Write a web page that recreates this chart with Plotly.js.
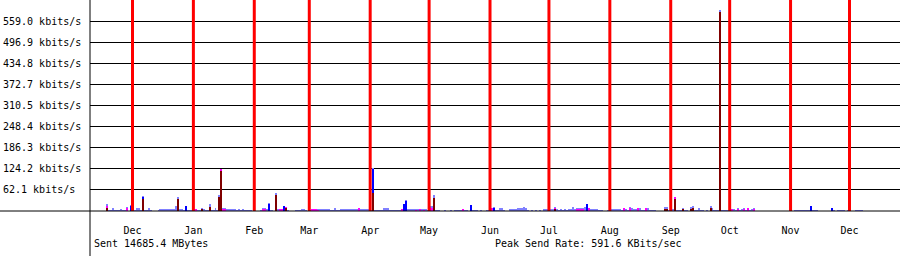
<!DOCTYPE html>
<html>
<head>
<meta charset="utf-8">
<script src="https://cdn.plot.ly/plotly-3.0.1.min.js"></script>
<style>html,body{margin:0;padding:0;background:#fff;}#chart{width:900px;height:256px;}</style>
</head>
<body>
<div id="chart"></div>
<script>
// ---- data (kbits/s), day index 0 = 2010-11-18 ----
const startDate = [2010, 10, 18];

// main (light blue) series, one value per day
const lightVals = [
  20, 3, 3, 9, 3, 3, 3, 6, 3, 3,
  12, 0, 18, 3, 3, 9, 9, 3, 44, 3,
  3, 9, 3, 0, 0, 0, 3, 6, 6, 6,
  6, 6, 6, 6, 6, 15, 41, 5, 5, 3,
  15, 3, 3, 3, 6, 6, 3, 3, 9, 6,
  3, 3, 20, 3, 3, 9, 3, 47, 122, 8,
  8, 5, 5, 5, 5, 5, 3, 5, 3, 5,
  3, 3, 3, 3, 0, 0, 0, 0, 3, 9,
  8, 6, 24, 3, 3, 0, 53, 5, 6, 6,
  15, 12, 3, 0, 0, 0, 3, 3, 3, 6,
  6, 3, 0, 3, 6, 6, 6, 6, 5, 5,
  5, 5, 5, 5, 3, 3, 9, 3, 3, 5,
  5, 5, 5, 5, 5, 5, 5, 5, 9, 5,
  5, 5, 5, 5, 3, 126, 3, 3, 3, 3,
  3, 8, 8, 8, 4, 4, 4, 4, 4, 4,
  6, 22, 31, 5, 5, 5, 5, 5, 5, 5,
  5, 5, 5, 3, 15, 15, 47, 3, 3, 3,
  0, 0, 3, 0, 0, 3, 0, 3, 3, 3,
  3, 6, 3, 3, 0, 18, 3, 3, 3, 0,
  3, 0, 0, 3, 3, 6, 9, 12, 3, 3,
  8, 8, 3, 0, 0, 5, 5, 5, 5, 8,
  8, 8, 12, 8, 3, 0, 3, 0, 3, 0,
  3, 0, 6, 6, 6, 6, 6, 6, 12, 5,
  3, 5, 3, 5, 3, 6, 6, 12, 6, 9,
  9, 9, 9, 12, 21, 9, 6, 6, 6, 6,
  3, 3, 3, 0, 0, 3, 3, 5, 5, 5,
  5, 5, 3, 9, 5, 3, 12, 9, 6, 6,
  9, 9, 3, 3, 9, 9, 3, 3, 3, 3,
  0, 0, 0, 0, 12, 12, 3, 3, 6, 41,
  3, 3, 3, 9, 3, 3, 0, 12, 15, 3,
  3, 8, 3, 3, 0, 3, 0, 15, 8, 3,
  3, 3, 591.6, 3, 3, 3, 3, 3, 6, 6,
  3, 9, 3, 6, 9, 3, 9, 3, 6, 9,
  0, 0, 0, 0, 0, 0, 0, 0, 0, 0,
  0, 0, 0, 0, 0, 0, 0, 0, 0, 0,
  3, 3, 3, 3, 3, 3, 3, 3, 15, 3,
  3, 3, 0, 0, 0, 0, 0, 0, 0, 9,
  3, 0, 3, 3, 3, 3, 0, 3, 0, 0,
  0, 3, 3, 3, 3
];

// sparse series: day index and value
const pinkDays = [0, 10, 45, 58, 59, 60, 79, 80, 88, 89, 91, 104, 105, 106, 107, 128, 150, 151, 157, 159, 161, 164, 165, 181, 196, 228, 239, 240, 241, 242, 245, 263, 266, 270, 274, 289, 318, 321, 324, 326, 329];
const pinkVals = [15, 9, 5, 124, 6, 5, 6, 6, 5, 5, 12, 5, 5, 5, 3, 8, 6, 5, 3, 5, 3, 12, 8, 5, 8, 9, 5, 6, 5, 5, 8, 8, 9, 8, 8, 40, 5, 6, 6, 8, 6];

const blueDays = [12, 18, 40, 82, 90, 135, 151, 152, 185, 197, 244, 358, 369];
const blueVals = [15, 40, 15, 20, 14, 124, 20, 29, 17, 9, 20, 14, 8];

const darkDays = [0, 18, 36, 48, 52, 57, 58, 86, 91, 135, 166, 228, 284, 285, 289, 293, 297, 298, 307, 312];
const darkVals = [9, 35, 35, 6, 12, 41, 118, 48, 9, 53, 38, 5, 6, 6, 35, 6, 6, 9, 9, 585];

// axes
const monthStarts = ['2010-12-01','2011-01-01','2011-02-01','2011-03-01','2011-04-01','2011-05-01','2011-06-01','2011-07-01','2011-08-01','2011-09-01','2011-10-01','2011-11-01','2011-12-01'];
const monthNames = ['Dec','Jan','Feb','Mar','Apr','May','Jun','Jul','Aug','Sep','Oct','Nov','Dec'];
const gridVals = [62.11, 124.22, 186.33, 248.44, 310.55, 372.66, 434.77, 496.88, 558.99];
const gridLabels = ['62.1 kbits/s','124.2 kbits/s','186.3 kbits/s','248.4 kbits/s','310.5 kbits/s','372.7 kbits/s','434.8 kbits/s','496.9 kbits/s','559.0 kbits/s'];
const footLeft = 'Sent 14685.4 MBytes';
const footRight = 'Peak Send Rate: 591.6 KBits/sec';

function dayToDate(i) {
  const d = new Date(Date.UTC(startDate[0], startDate[1], startDate[2] + i, 12));
  return d.toISOString().slice(0, 10) + ' 12:00';
}
const DAY = 86400000;
function barTrace(days, vals, color) {
  return {
    type: 'bar', x: days.map(dayToDate), y: vals, width: days.map(() => DAY),
    marker: {color: color, line: {width: 0}}, hoverinfo: 'skip', showlegend: false
  };
}
const lightDays = lightVals.map((v, i) => i);

const FONT = {family: 'DejaVu Sans Mono', size: 10, color: '#000'};
const L = 90, B = 45, PW = 810, PH = 211;

const shapes = monthStarts.map(m => ({
  type: 'line', xref: 'x', yref: 'paper', x0: m + ' 06:00', x1: m + ' 06:00', y0: 0, y1: 1,
  line: {color: '#ff0000', width: 3}, layer: 'above'
}));
shapes.push({type: 'line', xref: 'paper', yref: 'paper', x0: -L / PW, x1: 1, y0: 0, y1: 0, line: {color: '#000', width: 1}, layer: 'above'});
shapes.push({type: 'line', xref: 'paper', yref: 'paper', x0: 0, x1: 0, y0: -B / PH, y1: 1, line: {color: '#000', width: 1}, layer: 'above'});

const annotations = gridVals.map((v, k) => ({
  xref: 'paper', yref: 'y', x: (2 - L) / PW, y: v, xanchor: 'left', yanchor: 'middle',
  text: gridLabels[k], showarrow: false, font: FONT, borderpad: 0
}));
annotations.push({xref: 'paper', yref: 'paper', x: (93 - L) / PW, y: -32 / PH, xanchor: 'left', yanchor: 'middle', text: footLeft, showarrow: false, font: FONT, borderpad: 0});
annotations.push({xref: 'paper', yref: 'paper', x: (494 - L) / PW, y: -32 / PH, xanchor: 'left', yanchor: 'middle', text: footRight, showarrow: false, font: FONT, borderpad: 0});

const data = [
  barTrace(lightDays, lightVals, '#8080ff'),
  barTrace(pinkDays, pinkVals, '#ff00ff'),
  barTrace(blueDays, blueVals, '#0000ff'),
  barTrace(darkDays, darkVals, '#800000')
];

const layout = {
  width: 900, height: 256,
  margin: {l: L, r: 0, t: 0, b: B, pad: 0},
  paper_bgcolor: '#fff', plot_bgcolor: '#fff',
  barmode: 'overlay', bargap: 0,
  showlegend: false,
  xaxis: {
    type: 'date', range: ['2010-11-09 15:00', '2011-12-26 23:00'],
    tickvals: monthStarts.map(m => m + ' 06:00'), ticktext: monthNames, ticks: '', showgrid: false,
    zeroline: false, showline: false, tickfont: FONT, fixedrange: true, ticklabelstandoff: 12
  },
  yaxis: {
    range: [0, 621.1], tickvals: gridVals, showticklabels: false, ticks: '',
    showgrid: true, gridcolor: '#000', gridwidth: 1, zeroline: false, showline: false, fixedrange: true
  },
  shapes: shapes,
  annotations: annotations
};

Plotly.newPlot('chart', data, layout, {staticPlot: true, displayModeBar: false});
</script>
</body>
</html>
